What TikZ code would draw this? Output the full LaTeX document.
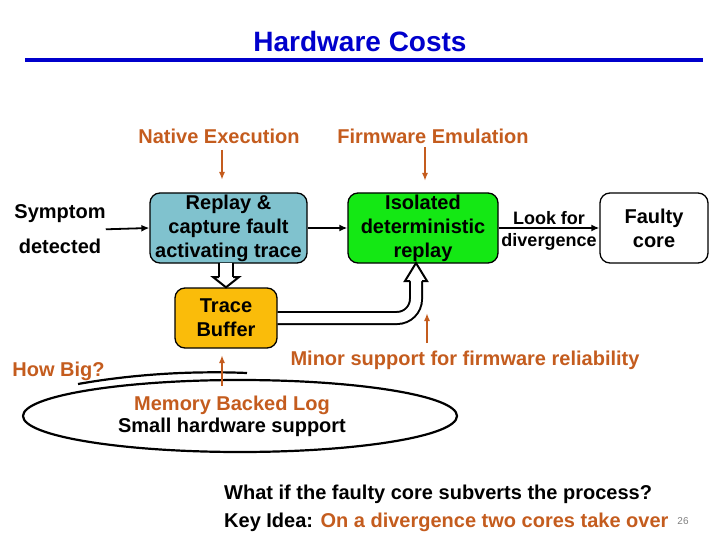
\documentclass[tikz,border=0pt]{standalone}
\usepackage{fontspec}
\setmainfont{Liberation Sans}
\usetikzlibrary{arrows.meta,calc}
\definecolor{titleblue}{RGB}{0,0,204}
\definecolor{brn}{RGB}{196,92,30}
\definecolor{tealbox}{RGB}{128,194,206}
\definecolor{greenbox}{RGB}{20,232,20}
\definecolor{orangebox}{RGB}{250,188,10}
\definecolor{pagegray}{RGB}{128,128,128}
\begin{document}
\begin{tikzpicture}[x=1pt,y=-1pt,
  box/.style={draw=black, line width=1.3pt, rounded corners=10pt, align=center,
    font=\fontsize{20}{24}\selectfont\bfseries, inner sep=0pt},
  lbl/.style={font=\fontsize{20}{24}\selectfont\bfseries, inner sep=0pt},
  smalllbl/.style={font=\fontsize{18}{22}\selectfont\bfseries, inner sep=0pt},
  blk/.style={-{Latex[length=8pt,width=7pt]}, line width=1.8pt},
  brw/.style={-{Latex[length=8pt,width=6pt]}, line width=1.6pt, draw=brn, color=brn},
  hollowv/.style={draw=black, double=white, line width=2pt, double distance=12pt},
  hollowc/.style={draw=black, double=white, line width=2pt, double distance=10pt},
  headst/.style={fill=white, draw=black, line width=2pt, line join=miter}
]
\useasboundingbox (0,0) rectangle (720,540);

% title
\node[font=\fontsize{28}{32}\selectfont\bfseries, text=titleblue, inner sep=0pt, anchor=base] (title) at (360,52) {Hardware Costs};
\draw[titleblue, line width=4pt] (25,60) -- (703,60);

% headings
\node[lbl, text=brn, anchor=base] (native) at (219,144) {Native Execution};
\node[lbl, text=brn, anchor=base] (firm) at (433,144) {Firmware Emulation};

% boxes
\node[box, fill=tealbox, minimum width=157pt, minimum height=70pt] (replay) at (228.5,228) {Replay \&\\capture fault\\activating trace};
\node[box, fill=greenbox, minimum width=150pt, minimum height=70pt] (iso) at (423,228) {Isolated\\deterministic\\replay};
\node[box, fill=white, minimum width=108pt, minimum height=70pt] (faulty) at (654,228) {Faulty\\core};
\node[box, fill=orangebox, minimum width=102pt, minimum height=60pt] (trace) at (226,318) {Trace\\Buffer};

% symptom
\node[lbl, align=center] (sym) at (60,229.3) {Symptom\\[11pt]detected};

% black arrows
\draw[blk] (sym.east) -- (replay.west);
\draw[blk] (replay.east) -- (iso.west);
\draw[blk] (iso.east) -- (faulty.west);
\node[smalllbl, anchor=base] (look) at (549,225) {Look for};
\node[smalllbl, anchor=base] (div) at (549,246) {divergence};

% brown arrows from headings
\coordinate (na) at (222,150); \coordinate (nb) at (222,180);
\draw[brw] (na) -- (nb);
\coordinate (fa) at (425,147); \coordinate (fb) at (425,181);
\draw[brw] (fa) -- (fb);

% hollow arrow replay -> trace
\coordinate (va) at (226,263); \coordinate (vb) at (226,277);
\draw[hollowv] (va) -- (vb);
\filldraw[headst] (219,277) -- (213,277) -- (trace.north) -- (239,277) -- (233,277);

% hollow curved arrow trace -> iso
\coordinate (hb) at (416,281);
\coordinate (ht) at (416,263);
\draw[hollowc, rounded corners=19pt] (trace.east) -- (hb |- trace.east) -- (hb);
\filldraw[headst] (410,281) -- (405,281) -- (ht) -- (427,281) -- (422,281);

% minor support
\node[lbl, text=brn, anchor=base] (minor) at (465,365) {Minor support for firmware reliability};
\coordinate (ma) at (427,343); \coordinate (mb) at (427,313);
\draw[brw] (ma) -- (mb);

% how big
\node[lbl, text=brn, anchor=base] (howbig) at (58.5,376) {How Big?};

% ellipse
\draw[line width=2.2pt] (240,416) ellipse [x radius=217pt, y radius=36pt];
\draw[line width=2.2pt] (78,384) .. controls (140,373) and (200,371) .. (247,373);

\node[lbl, text=brn, anchor=base] (mem) at (232,410) {Memory Backed Log};
\node[lbl, anchor=base] (small) at (232,432) {Small hardware support};
\coordinate (la) at (222,386); \coordinate (lb) at (222,355);
\draw[brw] (la) -- (lb);

% bottom
\node[lbl, anchor=base west] (q) at (224,499) {What if the faulty core subverts the process?};
\node[lbl, anchor=base west] (key) at (224,527) {Key Idea: \textcolor{brn}{On a divergence two cores take over}};
\node[font=\fontsize{10}{12}\selectfont, text=pagegray, inner sep=0pt, anchor=base] (pg) at (683,524) {26};
\end{tikzpicture}
\end{document}
